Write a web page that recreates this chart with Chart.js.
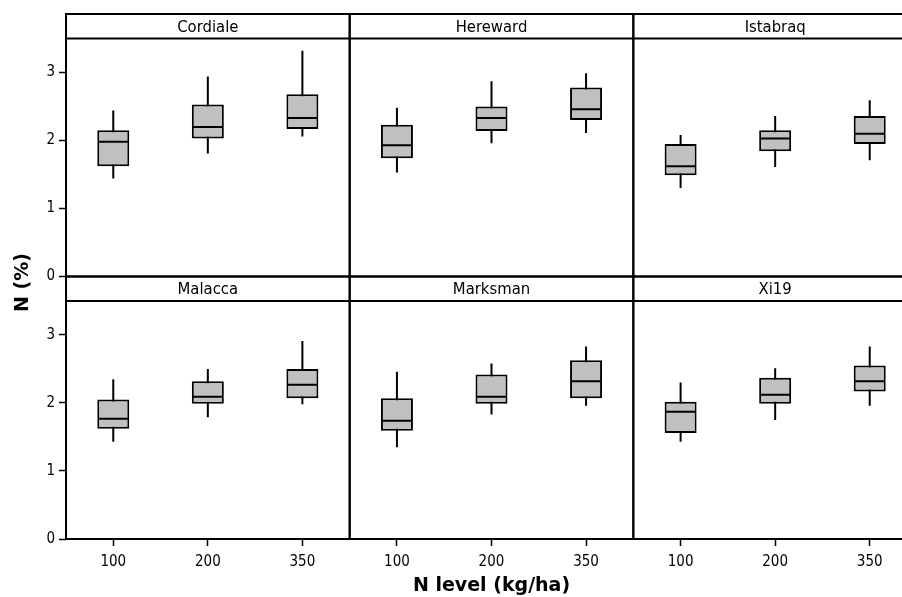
<!DOCTYPE html>
<html>
<head>
<meta charset="utf-8">
<title>N (%) by N level</title>
<script src="https://cdn.jsdelivr.net/npm/chart.js@4.4.1/dist/chart.umd.min.js"></script>
<style>
  html, body { margin: 0; padding: 0; background: #fff; overflow: hidden; }
  #wrap { position: relative; width: 917px; height: 597px; }
</style>
</head>
<body>
<div id="wrap"><canvas id="nChart" width="917" height="597"></canvas></div>
<script>
// Data: one row per variety, columns are the N levels 100 / 200 / 350 kg/ha
const varieties = ['Cordiale', 'Hereward', 'Istabraq', 'Malacca', 'Marksman', 'Xi19'];
const nLevels = ['100', '200', '350'];
const whiskerLow  = [[1.44, 1.81, 2.06], [1.53, 1.96, 2.11], [1.30, 1.61, 1.71], [1.43, 1.79, 1.98], [1.35, 1.83, 1.96], [1.43, 1.75, 1.96]];
const quartile1   = [[1.62, 2.03, 2.17], [1.74, 2.14, 2.30], [1.49, 1.84, 1.95], [1.62, 1.99, 2.07], [1.59, 1.99, 2.07], [1.56, 1.99, 2.17]];
const medians     = [[1.98, 2.20, 2.33], [1.93, 2.33, 2.46], [1.62, 2.03, 2.10], [1.77, 2.09, 2.27], [1.74, 2.09, 2.32], [1.87, 2.12, 2.32]];
const quartile3   = [[2.15, 2.53, 2.68], [2.23, 2.50, 2.78], [1.95, 2.15, 2.36], [2.05, 2.32, 2.50], [2.07, 2.42, 2.63], [2.02, 2.37, 2.55]];
const whiskerHigh = [[2.44, 2.94, 3.32], [2.48, 2.87, 2.99], [2.08, 2.36, 2.59], [2.35, 2.50, 2.91], [2.46, 2.58, 2.83], [2.30, 2.51, 2.83]];
const yTicks = [0, 1, 2, 3];
const stripBase = 3.5;   // top of the plotting region, the panel label strip sits above it
const yMax = 3.86;

const family = "'DejaVu Sans Condensed', 'DejaVu Sans', sans-serif";
Chart.defaults.font.family = family;
Chart.defaults.color = '#000';

const xId = i => 'x' + (i % 3 + 1);
const yId = i => (i < 3 ? 'yTop' : 'yBottom');

// box = floating bar Q1..Q3, whisker = thin bar behind it, median = short line marker
const datasets = [];
varieties.forEach((name, i) => {
  const axes = { xAxisID: xId(i), yAxisID: yId(i) };
  datasets.push({
    ...axes, type: 'line', label: name + ' median', order: 0,
    data: medians[i], showLine: false,
    pointStyle: 'line', pointRadius: 15, pointHoverRadius: 15,
    pointBorderWidth: 2, pointBorderColor: '#000', pointBackgroundColor: '#000'
  });
  datasets.push({
    ...axes, label: name + ' box', order: 1, grouped: false, inflateAmount: 0, borderSkipped: false,
    data: nLevels.map((_, k) => [quartile1[i][k], quartile3[i][k]]),
    backgroundColor: '#c0c0c0', borderColor: '#000', borderWidth: 2, barThickness: 32
  });
  datasets.push({
    ...axes, label: name + ' whisker', order: 2, grouped: false, inflateAmount: 0,
    data: nLevels.map((_, k) => [whiskerLow[i][k], whiskerHigh[i][k]]),
    backgroundColor: '#000', borderWidth: 0, barThickness: 2
  });
});

function xScale(withTitle) {
  return {
    type: 'category', labels: nLevels, position: 'bottom', stack: 'cols', offset: true,
    grid: { offset: false, drawOnChartArea: false, tickLength: 7, tickWidth: 1.5, tickColor: '#000' },
    border: { display: false },
    ticks: { padding: 7, autoSkip: false, maxRotation: 0, font: { size: 15 } },
    title: {
      display: withTitle, text: 'N level (kg/ha)', padding: { top: 0, bottom: 0 },
      font: { family: 'DejaVu Sans', size: 19, weight: 'bold' }
    },
    afterFit(s) { s.height = 58; s.paddingLeft = 0; s.paddingRight = 0; }
  };
}
function yScale() {
  return {
    type: 'linear', position: 'left', stack: 'rows', min: 0, max: yMax,
    grid: { drawOnChartArea: false, tickLength: 7, tickWidth: 1.5, tickColor: '#000' },
    border: { display: false },
    ticks: { padding: 4, font: { size: 15 } },
    afterBuildTicks(s) { s.ticks = yTicks.map(v => ({ value: v })); },
    afterFit(s) { s.width = 66; s.paddingTop = 0; s.paddingBottom = 0; }
  };
}

// panel frames, label strips and the y title
const panelFrames = {
  id: 'panelFrames',
  afterDatasetsDraw(chart) {
    const ctx = chart.ctx;
    ctx.save();
    ctx.strokeStyle = '#000';
    ctx.lineWidth = 2;
    ctx.fillStyle = '#000';
    ctx.font = '16.5px ' + family;
    ctx.textAlign = 'center';
    ctx.textBaseline = 'middle';
    varieties.forEach((name, i) => {
      const xs = chart.scales[xId(i)];
      const ys = chart.scales[yId(i)];
      const stripY = ys.getPixelForValue(stripBase);
      ctx.strokeRect(xs.left, ys.top, xs.right - xs.left, ys.bottom - ys.top);
      ctx.beginPath();
      ctx.moveTo(xs.left, stripY);
      ctx.lineTo(xs.right, stripY);
      ctx.stroke();
      ctx.fillText(name, (xs.left + xs.right) / 2, (ys.top + stripY) / 2 + 1);
    });
    const top = chart.scales.yTop;
    ctx.translate(23, top.bottom + 6);
    ctx.rotate(-Math.PI / 2);
    ctx.font = "bold 19px 'DejaVu Sans', sans-serif";
    ctx.fillText('N (%)', 0, 0);
    ctx.restore();
  }
};

new Chart(document.getElementById('nChart'), {
  type: 'bar',
  data: { datasets },
  options: {
    responsive: false,
    animation: false,
    layout: { autoPadding: false, padding: { top: 14, left: 0, right: 0, bottom: 0 } },
    plugins: { legend: { display: false }, tooltip: { enabled: false } },
    scales: {
      x1: xScale(false),
      x2: xScale(true),
      x3: xScale(false),
      yBottom: yScale(),
      yTop: yScale()
    }
  },
  plugins: [panelFrames]
});
</script>
</body>
</html>
